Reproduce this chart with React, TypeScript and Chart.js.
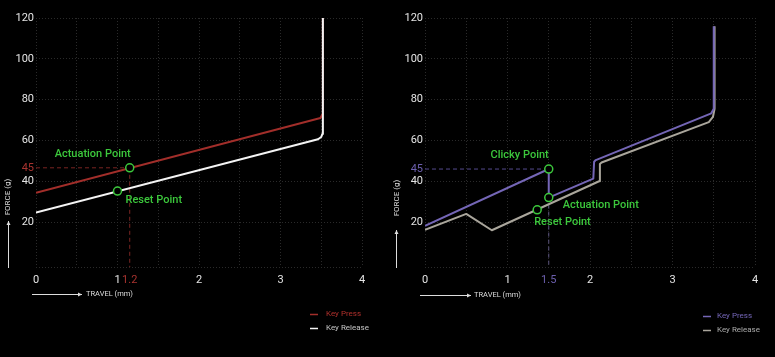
import React, { useEffect, useRef } from 'react';
import { Chart, registerables } from 'chart.js';

Chart.register(...registerables);

// ---------------- Data ----------------
// Shared axes
const forceTickValues = [20, 40, 60, 80, 100, 120];
const forceAxisMin = -2;
const forceAxisMax = 120;
const travelTickValues = [0, 1, 2, 3, 4];
const travelGridStep = 0.5;
const seriesNames = ['Key Press', 'Key Release'];

// Left switch (linear-tactile, red)
const leftPressTravel = [0, 3.49, 3.513, 3.52];
const leftPressForce = [34.4, 71.0, 72.8, 121];
const leftReleaseTravel = [0, 3.46, 3.5, 3.514, 3.52, 3.52];
const leftReleaseForce = [24.7, 60.6, 61.7, 63.2, 66.5, 121];
const leftMarkerNames = ['Actuation Point', 'Reset Point'];
const leftMarkerTravel = [1.15, 1.0];
const leftMarkerForce = [46.6, 35.2];
const leftTravelNoteLabel = '1.2';
const leftForceNoteLabel = '45';

// Right switch (clicky, purple)
const rightPressTravel = [0, 1.5, 1.5, 2.04, 2.05, 2.07, 3.47, 3.5, 3.5];
const rightPressForce = [18.2, 46, 32, 41.3, 49.6, 50.4, 73.3, 75.5, 116];
const rightReleaseTravel = [0, 0.5, 0.81, 2.11, 2.12, 2.14, 3.44, 3.49, 3.51, 3.51];
const rightReleaseForce = [16.2, 24, 16, 40, 48.5, 49.2, 69, 71.5, 75.5, 116];
const rightMarkerNames = ['Clicky Point', 'Actuation Point', 'Reset Point'];
const rightMarkerTravel = [1.5, 1.5, 1.36];
const rightMarkerForce = [46, 32, 26];
const rightTravelNoteLabel = '1.5';
const rightForceNoteLabel = '45';

// ---------------- Styles ----------------
const FONT = "Roboto, 'DejaVu Sans', sans-serif";
const GREEN = '#3cc83c';
const TICK_COLOR = '#e4e4e4';
const GRID_COLOR = '#2a2a2a';
const CANVAS_H = 357;
const CHART_BOTTOM = 267;

type Spec = {
  width: number;
  left: number;
  yAxisWidth: number;
  padRight: number;
  pressTravel: number[];
  pressForce: number[];
  releaseTravel: number[];
  releaseForce: number[];
  markerNames: string[];
  markerTravel: number[];
  markerForce: number[];
  hGuideMarker: number;
  vGuideMarker: number;
  travelNoteLabel: string;
  forceNoteLabel: string;
  pressColor: string;
  releaseColor: string;
  pressTextColor: string;
  releaseTextColor: string;
  noteColor: string;
  hGuideColor: string;
  vGuideColor: string;
  pressOnTop: boolean;
  labelPlacement: { dx: number; dy: number; align: CanvasTextAlign }[];
  legend: { lineX1: number; lineX2: number; textX: number; y: number[] };
  forceTitle: { x: number; y: number; arrowX: number; arrowY1: number; arrowY2: number };
  travelTitle: { y: number; arrowX1: number; arrowX2: number; textX: number };
};

const toPoints = (xs: number[], ys: number[]) => xs.map((x, i) => ({ x, y: ys[i] }));

function drawArrow(ctx: CanvasRenderingContext2D, x1: number, y1: number, x2: number, y2: number, color: string) {
  ctx.save();
  ctx.strokeStyle = color;
  ctx.fillStyle = color;
  ctx.lineWidth = 1;
  ctx.beginPath();
  ctx.moveTo(x1, y1);
  ctx.lineTo(x2, y2);
  ctx.stroke();
  const ang = Math.atan2(y2 - y1, x2 - x1);
  const h = 4;
  const w = 2;
  const bx = x2 - h * Math.cos(ang);
  const by = y2 - h * Math.sin(ang);
  ctx.beginPath();
  ctx.moveTo(x2, y2);
  ctx.lineTo(bx - w * Math.sin(ang), by + w * Math.cos(ang));
  ctx.lineTo(bx + w * Math.sin(ang), by - w * Math.cos(ang));
  ctx.closePath();
  ctx.fill();
  ctx.restore();
}

function buildConfig(spec: Spec): any {
  const travelNote = spec.markerTravel[spec.vGuideMarker];
  const forceNote = spec.markerForce[spec.hGuideMarker];
  const halfSteps: number[] = [];
  for (let v = travelTickValues[0]; v <= travelTickValues[travelTickValues.length - 1] + 1e-9; v += travelGridStep) {
    halfSteps.push(Math.round(v * 100) / 100);
  }
  const xTicks = Array.from(new Set([...halfSteps, travelNote])).sort((a, b) => a - b);
  const yTicks = [forceAxisMin, ...forceTickValues, forceNote].sort((a, b) => a - b);
  const MARKER_INDEX = 0;

  const datasets: any[] = [
    {
      label: 'markers',
      data: toPoints(spec.markerTravel, spec.markerForce),
      showLine: false,
      pointRadius: 4,
      pointBorderWidth: 1.5,
      pointBorderColor: GREEN,
      pointBackgroundColor: '#000',
      order: 0,
    },
    {
      label: seriesNames[1],
      data: toPoints(spec.releaseTravel, spec.releaseForce),
      showLine: true,
      borderColor: spec.releaseColor,
      borderWidth: 2,
      pointRadius: 0,
      order: spec.pressOnTop ? 2 : 1,
    },
    {
      label: seriesNames[0],
      data: toPoints(spec.pressTravel, spec.pressForce),
      showLine: true,
      borderColor: spec.pressColor,
      borderWidth: 2,
      pointRadius: 0,
      order: spec.pressOnTop ? 1 : 2,
    },
    {
      label: 'guideH',
      data: [
        { x: travelTickValues[0], y: forceNote },
        { x: spec.markerTravel[spec.hGuideMarker], y: forceNote },
      ],
      showLine: true,
      borderColor: spec.hGuideColor,
      borderWidth: 1,
      borderDash: [4, 3],
      pointRadius: 0,
      order: 3,
    },
    {
      label: 'guideV',
      data: [
        { x: travelNote, y: spec.markerForce[spec.vGuideMarker] },
        { x: travelNote, y: forceAxisMin },
      ],
      showLine: true,
      borderColor: spec.vGuideColor,
      borderWidth: 1,
      borderDash: [4, 3],
      pointRadius: 0,
      order: 3,
    },
  ];

  const decor = {
    id: 'decor',
    afterDraw(chart: any) {
      const ctx: CanvasRenderingContext2D = chart.ctx;
      ctx.save();
      // marker names
      const meta = chart.getDatasetMeta(MARKER_INDEX);
      ctx.font = `500 11px ${FONT}`;
      ctx.fillStyle = GREEN;
      ctx.textBaseline = 'middle';
      meta.data.forEach((pt: any, i: number) => {
        const p = spec.labelPlacement[i];
        ctx.textAlign = p.align;
        ctx.fillText(spec.markerNames[i], pt.x + p.dx, pt.y + p.dy);
      });
      // legend
      const lg = spec.legend;
      const legendItems = [
        { name: seriesNames[0], line: spec.pressColor, text: spec.pressTextColor },
        { name: seriesNames[1], line: spec.releaseColor, text: spec.releaseTextColor },
      ];
      ctx.font = `8px ${FONT}`;
      ctx.textAlign = 'left';
      legendItems.forEach((it, i) => {
        const y = lg.y[i];
        ctx.strokeStyle = it.line;
        ctx.lineWidth = 1.5;
        ctx.beginPath();
        ctx.moveTo(lg.lineX1, y + 0.5);
        ctx.lineTo(lg.lineX2, y + 0.5);
        ctx.stroke();
        ctx.fillStyle = it.text;
        ctx.fillText(it.name, lg.textX, y);
      });
      // axis titles
      const ft = spec.forceTitle;
      drawArrow(ctx, ft.arrowX + 0.5, ft.arrowY1, ft.arrowX + 0.5, ft.arrowY2, '#dddddd');
      ctx.save();
      ctx.translate(ft.x, ft.y);
      ctx.rotate(-Math.PI / 2);
      ctx.font = `8px ${FONT}`;
      ctx.fillStyle = '#dddddd';
      ctx.textAlign = 'center';
      ctx.textBaseline = 'middle';
      ctx.fillText('FORCE (g)', 0, 0);
      ctx.restore();
      const tt = spec.travelTitle;
      drawArrow(ctx, tt.arrowX1, tt.y + 0.5, tt.arrowX2, tt.y + 0.5, '#dddddd');
      ctx.font = `7.5px ${FONT}`;
      ctx.fillStyle = '#dddddd';
      ctx.textAlign = 'left';
      ctx.textBaseline = 'middle';
      ctx.fillText('TRAVEL (mm)', tt.textX, tt.y);
      ctx.restore();
    },
  };

  return {
    type: 'scatter',
    data: { datasets },
    plugins: [decor],
    options: {
      animation: false,
      responsive: false,
      events: [],
      layout: { padding: { left: 0, right: spec.padRight, top: 18, bottom: 0 } },
      elements: { line: { tension: 0, borderJoinStyle: 'round' } },
      plugins: { legend: { display: false }, tooltip: { enabled: false } },
      scales: {
        x: {
          type: 'linear',
          min: travelTickValues[0],
          max: travelTickValues[travelTickValues.length - 1],
          afterBuildTicks: (s: any) => {
            s.ticks = xTicks.map((v) => ({ value: v }));
          },
          afterFit: (s: any) => {
            s.height = CANVAS_H - CHART_BOTTOM;
          },
          grid: {
            color: (c: any) =>
              c.tick && c.tick.value === travelNote && !halfSteps.includes(travelNote) ? 'rgba(0,0,0,0)' : GRID_COLOR,
            drawTicks: false,
            lineWidth: 1,
          },
          border: { display: false, dash: [1, 2] },
          ticks: {
            autoSkip: false,
            maxRotation: 0,
            padding: 7,
            font: { family: FONT, size: 11 },
            color: (c: any) => (c.tick && c.tick.value === travelNote ? spec.noteColor : TICK_COLOR),
            callback: (v: any) => {
              if (v === travelNote) return spec.travelNoteLabel;
              return travelTickValues.includes(v) ? String(v) : '';
            },
          },
        },
        y: {
          type: 'linear',
          min: forceAxisMin,
          max: forceAxisMax,
          afterBuildTicks: (s: any) => {
            s.ticks = yTicks.map((v) => ({ value: v }));
          },
          afterFit: (s: any) => {
            s.width = spec.yAxisWidth;
          },
          grid: {
            color: (c: any) => (c.tick && c.tick.value === forceNote ? 'rgba(0,0,0,0)' : GRID_COLOR),
            drawTicks: false,
            lineWidth: 1,
          },
          border: { display: false, dash: [1, 2] },
          ticks: {
            padding: 2,
            font: { family: FONT, size: 11 },
            color: (c: any) => (c.tick && c.tick.value === forceNote ? spec.noteColor : TICK_COLOR),
            callback: (v: any) => {
              if (v === forceNote) return spec.forceNoteLabel;
              return forceTickValues.includes(v) ? String(v) : '';
            },
          },
        },
      },
    },
  };
}

const leftSpec: Spec = {
  width: 387,
  left: 0,
  yAxisWidth: 36,
  padRight: 25,
  pressTravel: leftPressTravel,
  pressForce: leftPressForce,
  releaseTravel: leftReleaseTravel,
  releaseForce: leftReleaseForce,
  markerNames: leftMarkerNames,
  markerTravel: leftMarkerTravel,
  markerForce: leftMarkerForce,
  hGuideMarker: 0,
  vGuideMarker: 0,
  travelNoteLabel: leftTravelNoteLabel,
  forceNoteLabel: leftForceNoteLabel,
  pressColor: '#a22e2a',
  releaseColor: '#f4f4f4',
  pressTextColor: '#b0302c',
  releaseTextColor: '#c4c4c4',
  noteColor: '#a8332f',
  hGuideColor: '#7a2422',
  vGuideColor: '#7a2422',
  pressOnTop: false,
  labelPlacement: [
    { dx: 1, dy: -14, align: 'right' },
    { dx: 8, dy: 9, align: 'left' },
  ],
  legend: { lineX1: 310, lineX2: 318, textX: 326, y: [314, 328] },
  forceTitle: { x: 8, y: 197, arrowX: 8, arrowY1: 268, arrowY2: 221 },
  travelTitle: { y: 294, arrowX1: 32, arrowX2: 82, textX: 86 },
};

const rightSpec: Spec = {
  width: 388,
  left: 387,
  yAxisWidth: 38,
  padRight: 20,
  pressTravel: rightPressTravel,
  pressForce: rightPressForce,
  releaseTravel: rightReleaseTravel,
  releaseForce: rightReleaseForce,
  markerNames: rightMarkerNames,
  markerTravel: rightMarkerTravel,
  markerForce: rightMarkerForce,
  hGuideMarker: 0,
  vGuideMarker: 1,
  travelNoteLabel: rightTravelNoteLabel,
  forceNoteLabel: rightForceNoteLabel,
  pressColor: '#7466b6',
  releaseColor: '#aaa69c',
  pressTextColor: '#7466b8',
  releaseTextColor: '#aaaaaa',
  noteColor: '#6c5fae',
  hGuideColor: '#544a8e',
  vGuideColor: '#5d5680',
  pressOnTop: true,
  labelPlacement: [
    { dx: 0, dy: -14, align: 'right' },
    { dx: 14, dy: 8, align: 'left' },
    { dx: -3, dy: 12, align: 'left' },
  ],
  legend: { lineX1: 316, lineX2: 324, textX: 330, y: [316, 330] },
  forceTitle: { x: 10, y: 198, arrowX: 9, arrowY1: 268, arrowY2: 230 },
  travelTitle: { y: 295, arrowX1: 33, arrowX2: 84, textX: 87 },
};

function SwitchChart({ spec }: { spec: Spec }) {
  const ref = useRef<HTMLCanvasElement>(null);
  useEffect(() => {
    const chart = new Chart(ref.current as HTMLCanvasElement, buildConfig(spec));
    return () => chart.destroy();
  }, [spec]);
  return (
    <canvas
      ref={ref}
      width={spec.width}
      height={CANVAS_H}
      style={{ position: 'absolute', left: spec.left, top: 0, width: spec.width, height: CANVAS_H, display: 'block' }}
    />
  );
}

export default function App() {
  return (
    <div style={{ position: 'fixed', left: 0, top: 0, width: 775, height: CANVAS_H, background: '#000', overflow: 'hidden' }}>
      <SwitchChart spec={leftSpec} />
      <SwitchChart spec={rightSpec} />
    </div>
  );
}
